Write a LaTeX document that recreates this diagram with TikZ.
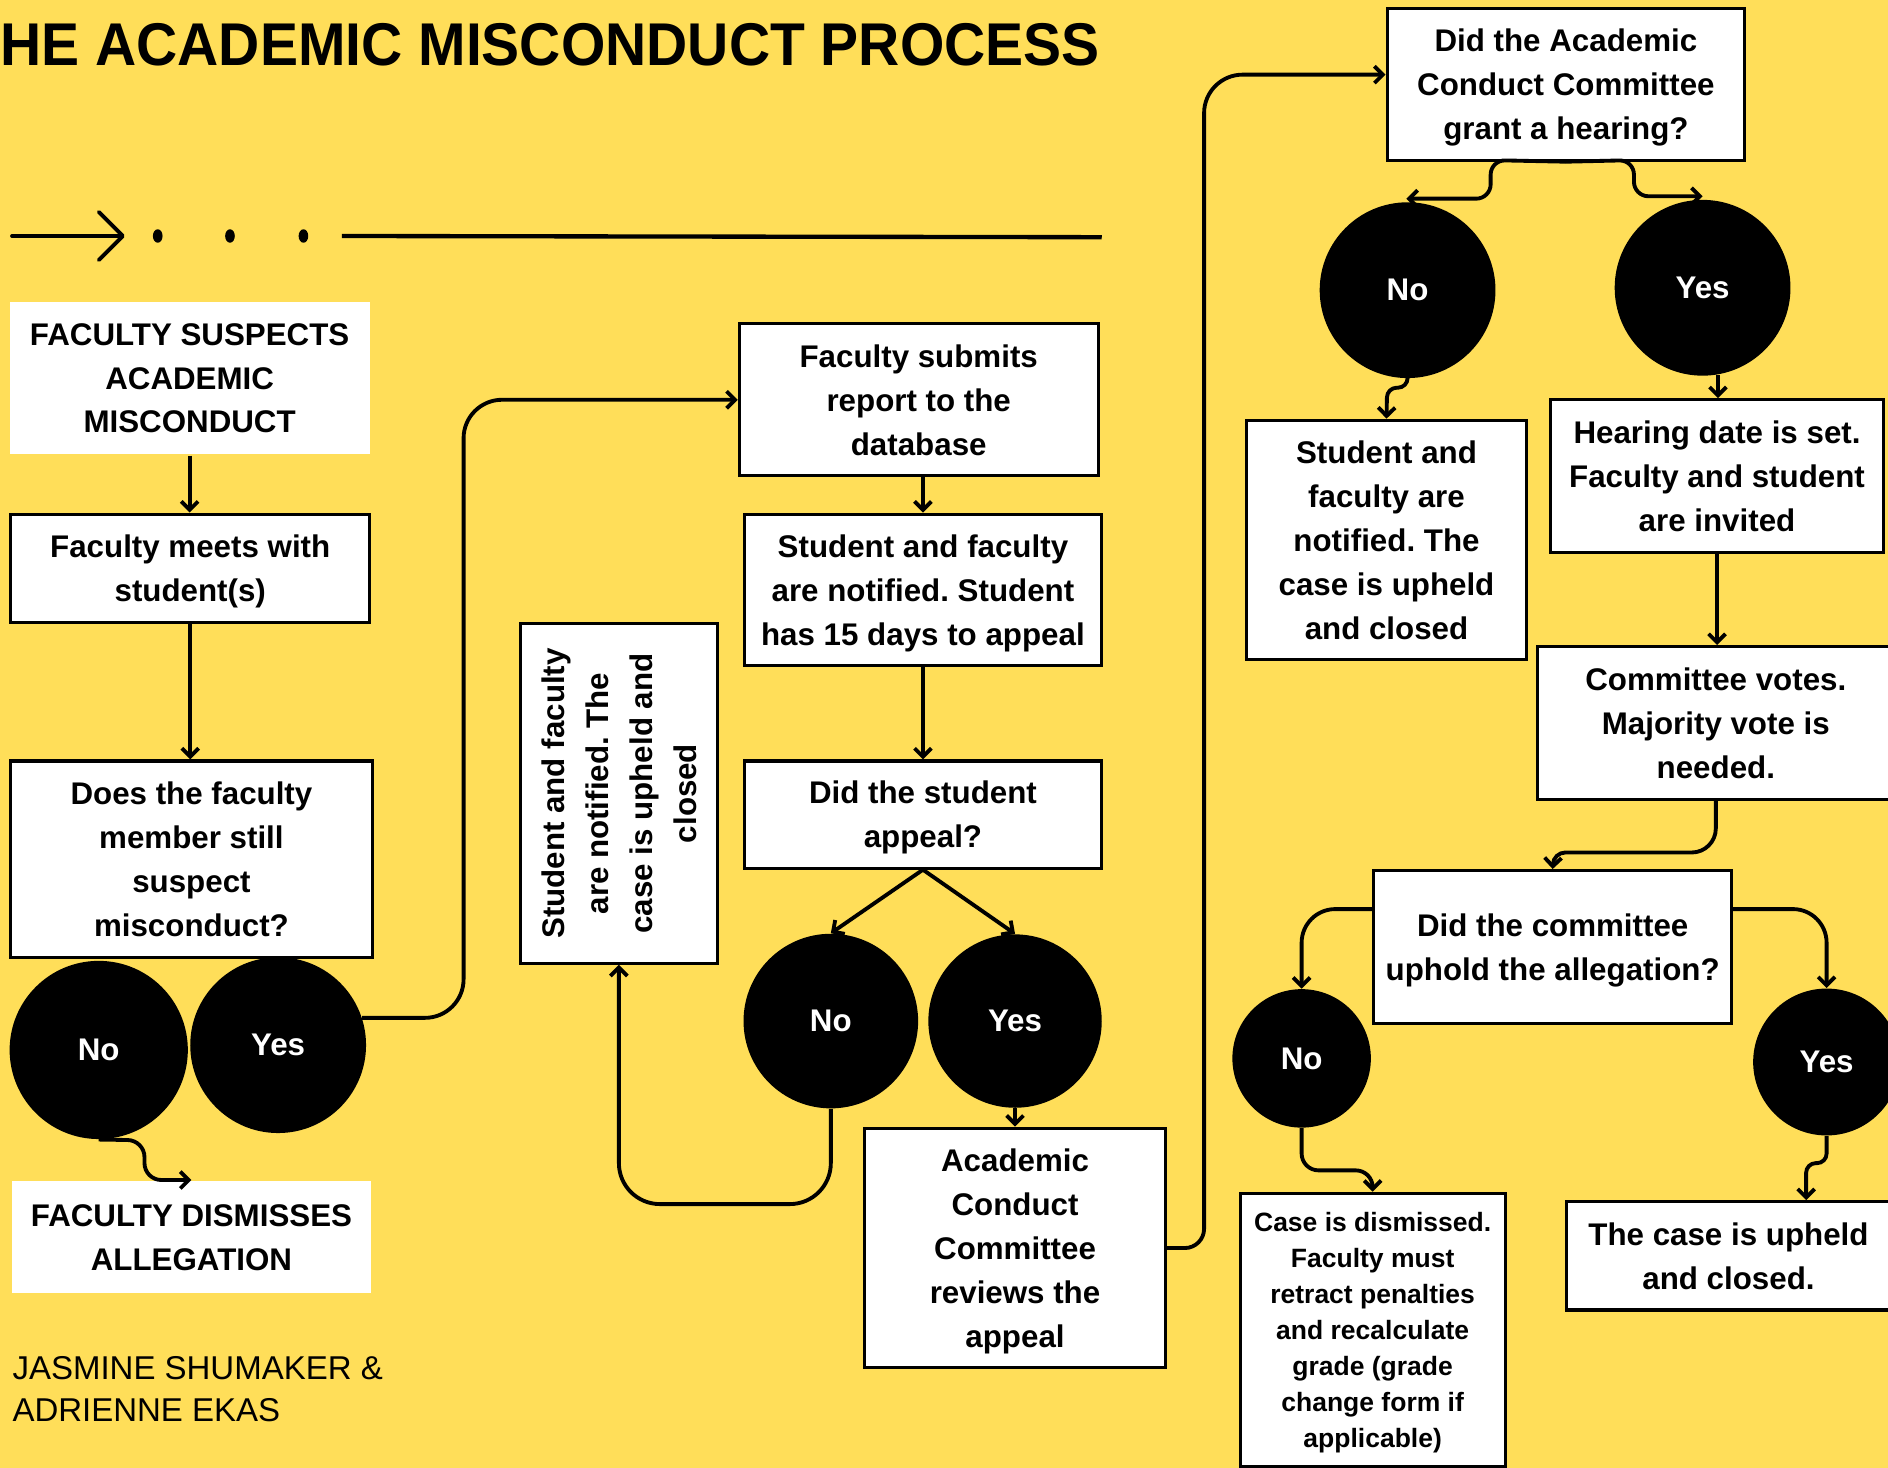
\documentclass[tikz,border=0pt]{standalone}
\usepackage{fontspec}
\setmainfont{Liberation Sans}
\usetikzlibrary{arrows.meta}
\definecolor{bgyellow}{HTML}{FFDE59}
\begin{document}
\frenchspacing
\begin{tikzpicture}[x=0.5pt,y=-0.5pt,
  box/.style={draw=black, line width=1.3pt, fill=white, inner sep=0pt, align=center,
              text depth=-2pt, font=\bfseries\fontsize{13}{18.25}\selectfont},
  plainbox/.style={box, draw=none},
  smallbox/.style={box, font=\bfseries\fontsize{11}{15}\selectfont},
  circ/.style={circle, fill=black, text=white, inner sep=0pt, text depth=-3pt,
               font=\bfseries\fontsize{13}{16}\selectfont},
  conn/.style={line width=1.6pt, -{Straight Barb[length=3.5pt,width=7pt]}},
  deco/.style={line width=1.6pt, line cap=round}]
\useasboundingbox (0,0) rectangle (1568,1219);
\fill[bgyellow] (0,0) rectangle (1568,1219);
\clip (0,0) rectangle (1568,1219);

% title
\node[anchor=south west, inner sep=0pt] (T) at (0,55)
  {\resizebox{456.5pt}{17.5pt}{\bfseries HE ACADEMIC MISCONDUCT PROCESS}};

% decorative arrow and dots
\draw[deco] (10,196) -- (100,196);
\draw[deco, line join=round] (82,176) -- (102,196) -- (82,216);
\fill (131,196) ellipse [x radius=2pt, y radius=2.8pt];
\fill (191,196) ellipse [x radius=2pt, y radius=2.8pt];
\fill (252,196) ellipse [x radius=2pt, y radius=2.8pt];
\draw[line width=1.8pt] (284,196) -- (915,197);

% boxes
\node[plainbox, minimum width=149.5pt, minimum height=63pt] (A) at (157.5,314)
  {FACULTY SUSPECTS\\ACADEMIC\\MISCONDUCT};
\node[box, minimum width=149pt, minimum height=45pt] (B) at (158,472)
  {Faculty meets with\\student(s)};
\node[box, minimum width=150pt, minimum height=81.5pt] (C) at (159,713.5)
  {Does the faculty\\member still\\suspect\\misconduct?};
\node[plainbox, minimum width=149pt, minimum height=46.5pt] (D) at (159,1027.5)
  {FACULTY DISMISSES\\ALLEGATION};
\node[box, minimum width=149pt, minimum height=63pt] (E) at (763,332)
  {Faculty submits\\report to the\\database};
\node[box, minimum width=148.5pt, minimum height=63pt] (F) at (766.5,490)
  {Student and faculty\\are notified. Student\\has 15 days to appeal};
\node[box, minimum width=148.5pt, minimum height=44.5pt] (G) at (766.5,676.5)
  {Did the student\\appeal?};
\node[box, minimum width=82pt, minimum height=141pt, text depth=] (H) at (514,659)
  {\rotatebox{90}{\parbox{135pt}{\centering Student and faculty\\are notified. The\\case is upheld and\\closed}}};
\node[box, minimum width=125pt, minimum height=99.5pt] (I) at (843,1036.5)
  {Academic\\Conduct\\Committee\\reviews the\\appeal};
\node[box, minimum width=148.5pt, minimum height=63pt] (J) at (1300.5,70)
  {Did the Academic\\Conduct Committee\\grant a hearing?};
\node[box, minimum width=116.5pt, minimum height=99.5pt] (K) at (1151.5,448.5)
  {Student and\\faculty are\\notified. The\\case is upheld\\and closed};
\node[box, minimum width=138pt, minimum height=63.5pt] (L) at (1426,395.5)
  {Hearing date is set.\\Faculty and student\\are invited};
\node[box, minimum width=148pt, minimum height=63.5pt] (M) at (1425,600.5)
  {Committee votes.\\Majority vote is\\needed.};
\node[box, minimum width=148.5pt, minimum height=63.5pt] (N) at (1289.5,786.5)
  {Did the committee\\uphold the allegation?};
\node[smallbox, minimum width=110pt, minimum height=113.5pt] (O) at (1140,1104.5)
  {Case is dismissed.\\Faculty must\\retract penalties\\and recalculate\\grade (grade\\change form if\\applicable)};
\node[box, minimum width=134.5pt, minimum height=45pt] (P) at (1435.5,1043)
  {The case is upheld\\and closed.};

% circles
\node[circ, minimum size=74pt] (N1) at (82,872) {No};
\node[circ, minimum size=73pt] (Y1) at (231,868) {Yes};
\node[circ, minimum size=72.5pt] (N2) at (690,848) {No};
\node[circ, minimum size=72pt] (Y2) at (843,848) {Yes};
\node[circ, minimum size=73pt] (N3) at (1169,241) {No};
\node[circ, minimum size=73pt] (Y3) at (1414,239) {Yes};
\node[circ, minimum size=57.5pt] (N4) at (1081,879) {No};
\node[circ, minimum size=61pt] (Y4) at (1517,882) {Yes};

% connectors
\draw[conn] (A.south) -- (A.south |- B.north);
\draw[conn] (B.south) -- (B.south |- C.north);
\draw[conn, rounded corners=7pt] (N1.south) -- (120,947) -- (120,980) -- (159,980);
\draw[conn, rounded corners=16pt] (Y1.18) -| (385,332) -- (E.west);
\draw[conn] (F.north |- E.south) -- (F.north);
\draw[conn] (F.south) -- (G.north);
\draw[conn] (G.south) -- (N2.north);
\draw[conn] (G.south) -- (Y2.north);
\draw[conn, rounded corners=17pt] (N2.south) -- (690,1000) -| (H.south);
\draw[conn] (Y2.south) -- (I.north);
\draw[conn] (I.east) [rounded corners=8pt] -- (1000,1036.5) [rounded corners=16pt] -- (1000,62) -- ([yshift=4pt]J.west);
\draw[conn, rounded corners=6pt] (J.south) -- (1238,133) -- (1238,165) -- (1168,165);
\draw[conn, rounded corners=6pt] (J.south) -- (1357,133) -- (1357,163) -- (1414,163);
\draw[conn, rounded corners=4pt] (N3.south) -- (1169,322) -- (1152,322) -- (K.north);
\draw[conn] (Y3.-80) -- (Y3.-80 |- L.north);
\draw[conn] (L.south) -- (L.south |- M.north);
\draw[conn] (M.south) [rounded corners=10pt] -- (1425,708) [rounded corners=5pt] -- (1290,708) -- (N.north);
\draw[conn, rounded corners=14pt] ([yshift=15.75pt]N.west) -| (N4.north);
\draw[conn, rounded corners=14pt] ([yshift=15.75pt]N.east) -| (Y4.north);
\draw[conn, rounded corners=7pt] (N4.south) -- (1081,972) -| (O.north);
\draw[conn, rounded corners=4pt] (Y4.south) -- (1517,966) -- (1500,966) -- ([xshift=32.25pt]P.north);

% authors
\node[anchor=west, inner sep=0pt, align=left, font=\fontsize{13.7}{17.5}\selectfont] (AU) at (10,1153.5)
  {JASMINE SHUMAKER \&\\ADRIENNE EKAS};
\end{tikzpicture}
\end{document}
